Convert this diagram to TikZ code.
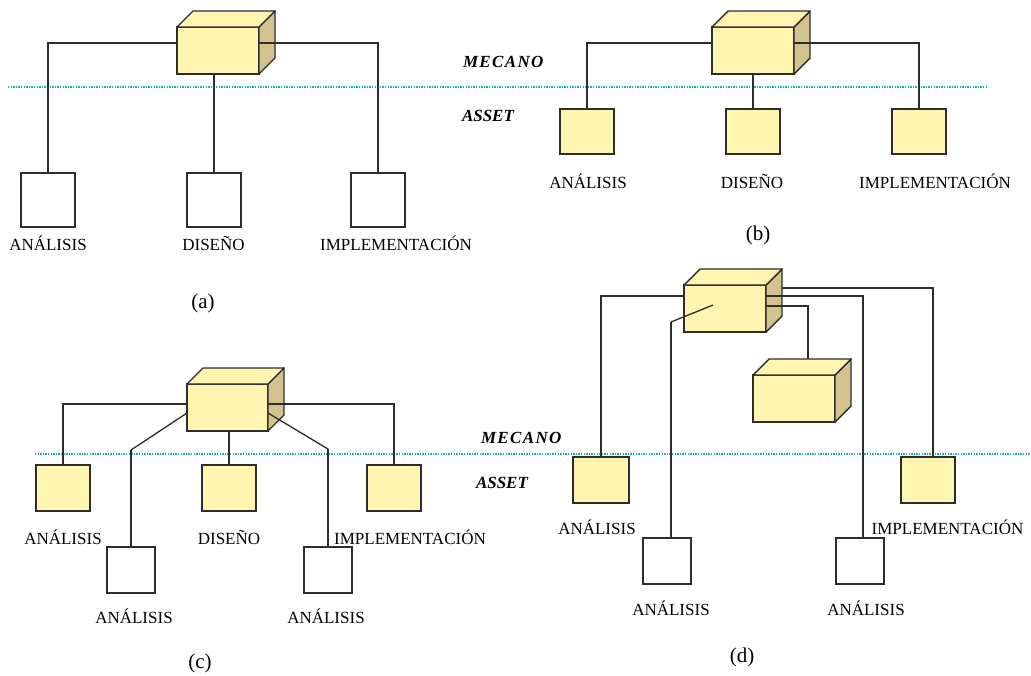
\documentclass[tikz,border=0pt]{standalone}
\usepackage{fontspec}
\setmainfont{Liberation Serif}
\usetikzlibrary{calc}
\definecolor{cubefill}{RGB}{255,245,176}
\definecolor{cubeside}{RGB}{209,194,142}
\definecolor{edgec}{RGB}{45,45,45}
\definecolor{sepc}{RGB}{30,170,200}
\newcommand\mycube[1]{%
  \filldraw[fill=cubeside,draw=edgec,line width=1.4pt,line join=round]
    (#1.north east) -- ($(#1.north east)+(16,-16)$) -- ($(#1.south east)+(16,-16)$) -- (#1.south east) -- cycle;
  \filldraw[fill=cubefill,draw=edgec,line width=1.4pt,line join=round]
    (#1.north west) -- ($(#1.north west)+(16,-16)$) -- ($(#1.north east)+(16,-16)$) -- (#1.north east) -- cycle;
}
\begin{document}
\begin{tikzpicture}[x=1pt,y=-1pt,
  every node/.style={inner sep=0pt,outer sep=0pt},
  sz/.style n args={2}{minimum width=#1pt,minimum height=#2pt},
  wbox/.style={draw=edgec,line width=1.4pt,fill=white},
  ybox/.style={draw=edgec,line width=1.4pt,fill=cubefill},
  cubefront/.style={draw=edgec,line width=1.4pt,fill=cubefill,minimum width=82pt,minimum height=47pt},
  conn/.style={draw=edgec,line width=1.3pt},
  lbl/.style={font=\fontsize{17}{19}\selectfont,anchor=base},
  plbl/.style={font=\fontsize{21}{24}\selectfont,anchor=base},
  lvl/.style={font=\fontsize{17}{19}\selectfont\bfseries\itshape,anchor=base west},
  sepline/.style={draw=sepc,line width=1.4pt,dash pattern=on 1.4pt off 1.2pt}
]
\useasboundingbox (0,0) rectangle (1031,675);

% separators
\draw[sepline] (8,87) -- (988,87);
\draw[sepline] (35,454) -- (1030,454);

% ---------- (a)
\node[cubefront] (cA) at (218,50.5) {};
\mycube{cA}
\node[wbox,sz={54}{54}] (bA1) at (48,200) {};
\node[wbox,sz={54}{54}] (bA2) at (214,200) {};
\node[wbox,sz={54}{54}] (bA3) at (378,200) {};
\draw[conn] ($(cA.north west)+(0,16)$) -| (bA1.north);
\draw[conn] ($(cA.north east)+(0,16)$) -| (bA3.north);
\draw[conn] (bA2.north |- cA.south) -- (bA2.north);
\node[lbl] (tA1) at (48,250) {ANÁLISIS};
\node[lbl] (tA2) at (213.5,250) {DISEÑO};
\node[lbl] (tA3) at (396,250) {IMPLEMENTACIÓN};
\node[plbl] (pa) at (203,308) {(a)};

% ---------- (b)
\node[lvl] (mB) at (463,67) {\addfontfeature{LetterSpace=8}MECANO};
\node[lvl] (aB) at (462,121) {ASSET};
\node[cubefront] (cB) at (753,50.5) {};
\mycube{cB}
\node[ybox,sz={54}{45}] (bB1) at (587,131.5) {};
\node[ybox,sz={54}{45}] (bB2) at (753,131.5) {};
\node[ybox,sz={54}{45}] (bB3) at (919,131.5) {};
\draw[conn] ($(cB.north west)+(0,16)$) -| (bB1.north);
\draw[conn] ($(cB.north east)+(0,16)$) -| (bB3.north);
\draw[conn] (bB2.north |- cB.south) -- (bB2.north);
\node[lbl] (tB1) at (588,188) {ANÁLISIS};
\node[lbl] (tB2) at (752,188) {DISEÑO};
\node[lbl] (tB3) at (935,188) {IMPLEMENTACIÓN};
\node[plbl] (pb) at (758,240) {(b)};

% ---------- (c)
\node[cubefront,minimum width=81pt] (cC) at (227.5,407.5) {};
\mycube{cC}
\node[ybox,sz={54}{46}] (bC1) at (63,488) {};
\node[ybox,sz={54}{46}] (bC2) at (229,488) {};
\node[ybox,sz={54}{46}] (bC3) at (394,488) {};
\node[wbox,sz={48}{46}] (bC4) at (131,570) {};
\node[wbox,sz={48}{46}] (bC5) at (328,570) {};
\coordinate (kC4) at ($(bC4.north)+(0,-97)$);
\coordinate (kC5) at ($(bC5.north)+(0,-98)$);
\draw[conn] ($(cC.north west)+(0,20)$) -| (bC1.north);
\draw[conn] ($(cC.north east)+(0,20)$) -| (bC3.north);
\draw[conn] (bC2.north |- cC.south) -- (bC2.north);
\draw[conn] ($(cC.north west)+(0,29)$) -- (kC4);
\draw[conn] (kC4) -- (bC4.north);
\draw[conn] ($(cC.north east)+(0,29)$) -- (kC5);
\draw[conn] (kC5) -- (bC5.north);
\node[lbl] (tC1) at (63,544) {ANÁLISIS};
\node[lbl] (tC2) at (229,544) {DISEÑO};
\node[lbl] (tC3) at (410,544) {IMPLEMENTACIÓN};
\node[lbl] (tC4) at (134,623) {ANÁLISIS};
\node[lbl] (tC5) at (326,623) {ANÁLISIS};
\node[plbl] (pc) at (200,668) {(c)};

% ---------- (d)
\node[lvl] (mD) at (481,443) {\addfontfeature{LetterSpace=8}MECANO};
\node[lvl] (aD) at (476,488) {ASSET};
\node[cubefront] (cD) at (725,308.5) {};
\mycube{cD}
\node[cubefront] (cE) at (794,398.5) {};
\mycube{cE}
\node[ybox,sz={56}{46}] (bD1) at (601,480) {};
\node[wbox,sz={48}{46}] (bD2) at (667,561) {};
\node[wbox,sz={48}{46}] (bD3) at (860,561) {};
\node[ybox,sz={54}{46}] (bD4) at (928,480) {};
\coordinate (pD) at ($(cD.north west)+(29,20)$);
\coordinate (kD2) at ($(bD2.north)+(4,-216)$);
\coordinate (eD2) at ($(bD2.north)+(4,0)$);
\coordinate (eD3) at ($(bD3.north)+(3,0)$);
\coordinate (eD4) at ($(bD4.north)+(5,0)$);
\coordinate (eE) at ($(cE.north west)+(55,-16)$);
\draw[conn] ($(cD.north west)+(0,11)$) -| (bD1.north);
\draw[conn] (pD) -- (kD2);
\draw[conn] (kD2) -- (eD2);
\draw[conn] ($(cD.north east)+(16,3)$) -| (eD4);
\draw[conn] ($(cD.north east)+(0,11)$) -| (eD3);
\draw[conn] ($(cD.north east)+(0,21)$) -| (eE);
\node[lbl] (tD1) at (597,534) {ANÁLISIS};
\node[lbl] (tD2) at (947.5,534) {IMPLEMENTACIÓN};
\node[lbl] (tD3) at (671,615) {ANÁLISIS};
\node[lbl] (tD4) at (866,615) {ANÁLISIS};
\node[plbl] (pd) at (742,662) {(d)};
\end{tikzpicture}
\end{document}
